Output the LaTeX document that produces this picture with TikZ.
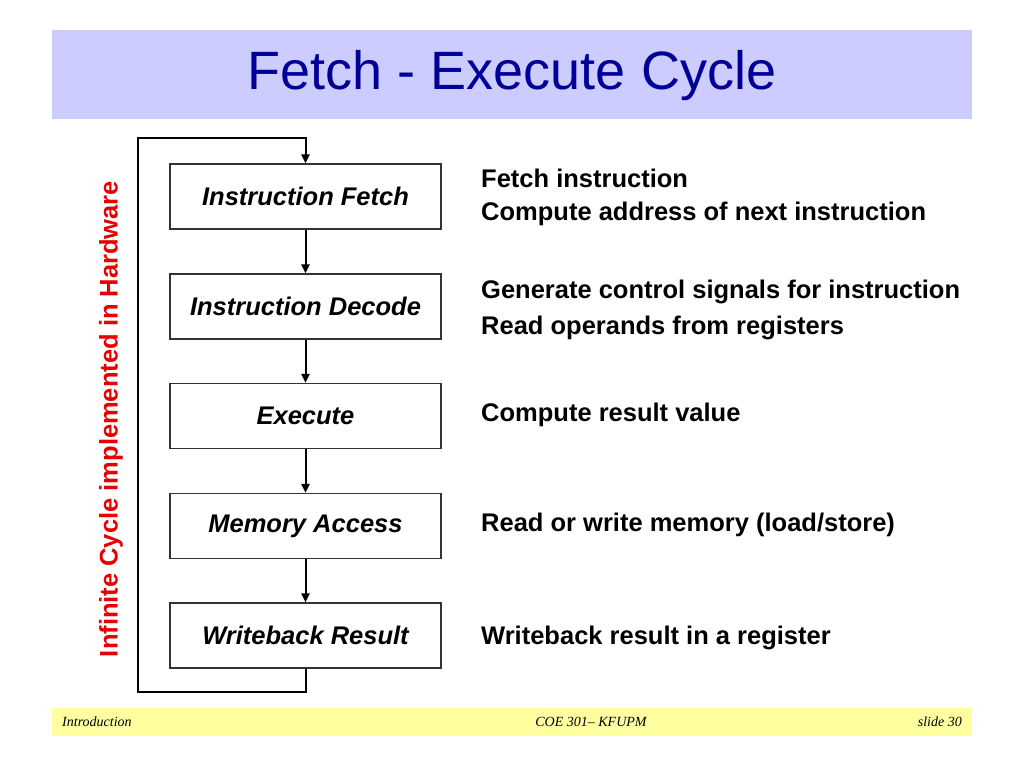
\documentclass[tikz,border=0pt]{standalone}
\usepackage{fontspec}
\setmainfont{Liberation Sans}
\newfontfamily\footfont{Liberation Serif}
\usetikzlibrary{arrows.meta}
\definecolor{hdr}{RGB}{204,204,255}
\definecolor{ftr}{RGB}{255,255,160}
\definecolor{ttl}{RGB}{0,0,153}
\definecolor{vred}{RGB}{230,0,0}
\tikzset{
  stagebox/.style={draw=black!80,line width=1.2pt,minimum width=271pt,minimum height=65pt,inner sep=0pt,fill=white,font=\fontsize{25.5}{30}\selectfont\bfseries\itshape},
  flow/.style={line width=2pt,-{Triangle[length=9pt,width=8pt]}},
  desc/.style={anchor=west,inner sep=0pt,font=\fontsize{25.5}{30}\selectfont\bfseries},
  foot/.style={inner sep=0pt,font=\footfont\fontsize{14}{16}\selectfont\itshape}
}
\begin{document}
\begin{tikzpicture}[x=1pt,y=-1pt]
\useasboundingbox (0,0) rectangle (1024,768);
\fill[white] (0,0) rectangle (1024,768);
\fill[hdr] (52,30) rectangle (972,119);
\node[text=ttl,font=\fontsize{54}{62}\selectfont] (title) at (512,76) {Fetch - Execute Cycle};
\fill[ftr] (52,708) rectangle (972,736);
\node[foot,anchor=west] (f1) at (62,722) {Introduction};
\node[foot] (f2) at (591,722) {COE 301– KFUPM};
\node[foot,anchor=east] (f3) at (962,722) {slide 30};

\node[stagebox] (s1) at (305.5,196.5) {Instruction Fetch};
\node[stagebox] (s2) at (305.5,306.5) {Instruction Decode};
\node[stagebox] (s3) at (305.5,416) {Execute};
\node[stagebox] (s4) at (305.5,526) {Memory Access};
\node[stagebox] (s5) at (305.5,635.5) {Writeback Result};

\draw[flow] (s1.south) -- (s2.north);
\draw[flow] (s2.south) -- (s3.north);
\draw[flow] (s3.south) -- (s4.north);
\draw[flow] (s4.south) -- (s5.north);
\coordinate (lb) at (138,692);
\coordinate (lt) at (138,138);
\draw[flow] (s5.south) |- (lb) -- (lt) -| (s1.north);

\node[rotate=90,text=vred,font=\fontsize{25.5}{30}\selectfont\bfseries,inner sep=0pt] (side) at (111,419) {Infinite Cycle implemented in Hardware};

\node[desc] (d1) at (481,178) {Fetch instruction};
\node[desc] (d2) at (481,214) {Compute address of next instruction};
\node[desc] (d3) at (481,292) {Generate control signals for instruction};
\node[desc] (d4) at (481,328) {Read operands from registers};
\node[desc] (d5) at (481,415) {Compute result value};
\node[desc] (d6) at (481,525) {Read or write memory (load/store)};
\node[desc] (d7) at (481,638) {Writeback result in a register};
\end{tikzpicture}
\end{document}
